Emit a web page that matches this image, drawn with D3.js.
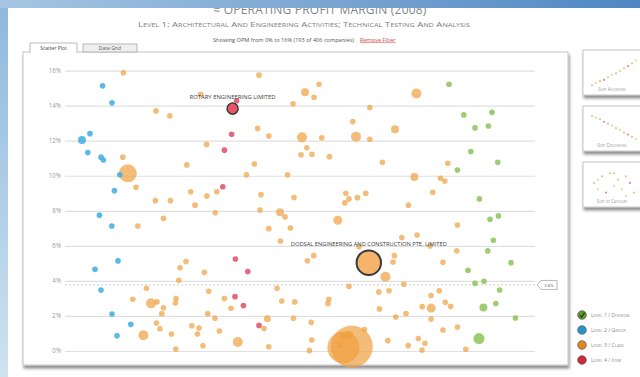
<!DOCTYPE html>
<html><head><meta charset="utf-8">
<script src="https://cdn.jsdelivr.net/npm/d3@7"></script>
<style>body{margin:0;background:#fff;overflow:hidden}svg{display:block;font-family:"Open Sans","Liberation Sans",sans-serif}</style>
</head><body><svg id="c" width="640" height="377"></svg>
<script>
// ---------- data ----------
const yTicks = [0, 2, 4, 6, 8, 10, 12, 14, 16];
const levelNames = ["Level 1 / Division", "Level 2 / Group", "Level 3 / Class", "Level 4 / Item"];
const levelColors = ["#86bf4f", "#3eaee0", "#f0a040", "#dc4462"];
const legendColors = ["#5e9a2c", "#2b93c9", "#e08a1e", "#d02a3c"];
const titleText = "≈ Operating Profit Margin (2008)";
const subtitleText = "Level 1: Architectural And Engineering Activities; Technical Testing And Analysis";
const filterText = "Showing OPM from 0% to 16% (193 of 406 companies)";
const refValue = 3.77, refLabel = "3.8%";
// [position, OPM %, size]  (size defaults to 18)
const level1 = [[192,15.22],[199.4,13.47],[213.5,13.62],[205,12.73],[211.7,12.84],[202.9,11.38],[216.4,10.77],[196.2,10.33],[207.2,8.68],[212.5,7.52],[216.7,7.71],[214.2,6.32],[211.4,5.71],[223,5.04],[201.5,4.61],[205,3.86],[209.5,3.98],[217.3,3.48],[209.2,2.48,36],[215.4,2.71],[225.2,1.88],[207,0.71,69]];
const level2 = [[18.8,15.13],[23.5,14.16],[12.5,12.40],[8.5,12.04,36],[11.4,11.32],[18,11.06],[19.2,10.90],[27.4,10.06],[24.7,9.15],[17.2,7.75],[23.4,7.13],[26.5,5.14],[15,4.66],[18,3.48],[23.5,2.11],[32.9,1.52],[26,0.87]];
const level3 = [[29.2,15.88],[45.5,13.70],[52.4,13.42],[67.8,14.65],[97,15.74],[114,14.11],[120,14.77,36],[124.5,14.48],[127,15.22],[175.7,14.69,57],
[152.4,13.89],[143.9,13.09],[165,12.65,36],[28.9,11.06],[96.3,12.70],[101.9,12.27],[70.8,11.79],[118.5,12.19,57],[128.4,12.17],[145.5,12.23,57],
[152.4,12.08],[120.9,11.60],[118,11.20],[123.5,11.23],[132.2,11.09],[158.7,10.77],[191.4,10.71],[60.9,10.62],[94.7,10.67],[31.4,10.14,184],
[90.7,10.05],[111.3,10.05],[174.7,9.93,36],[187.7,9.86],[189.9,9.70],[35.5,9.34],[62.9,9.09],[75.9,9.09],[70.9,8.84],[98,8.92],
[114.5,8.76],[140.4,9.00],[142,8.68],[146.2,8.75],[150.4,9.00],[139.9,8.45],[183.9,9.06],[45.2,8.58],[52.7,8.58],[65,8.32],
[171.7,8.32],[97.5,8.04],[75.1,7.89],[107.5,7.92,36],[110,7.65],[49.2,7.57],[36.4,7.13],[101.9,6.98],[112.7,7.02],[136.4,7.46,46],
[196.2,7.19],[168.4,6.47],[176,6.62],[107.7,6.28],[195.9,5.72],[147,5.95],[182.5,5.99],[121.2,5.15],[124.4,5.44],[164.7,5.44],
[164,5.08],[189,5.06],[60.5,5.10],[57.5,4.75],[69.7,4.49],[160.2,4.24,57],[56.9,4.04],[142,3.69],[169.4,3.81],[40.7,3.58],
[71.9,3.41],[106,3.58],[156.9,3.37],[162,3.44],[187.1,3.44],[183,3.17],[33.9,2.95],[43,2.72,57],[46,2.80],[49.2,2.47],
[48.4,2.13],[55.5,2.99],[55.2,2.74],[79.7,2.99],[83,2.44],[108.4,2.85],[114.9,2.80],[131.9,2.95],[131.5,2.70],[190.1,2.78],
[192.8,2.55],[178.6,2.53],[183.1,2.45,46],[157.2,2.40],[170.5,2.14],[71.4,2.13],[75,1.87],[101.2,1.84,28],[114.2,1.87],[165.4,1.94],
[183,1.82],[45.7,1.60],[47.5,1.27],[63.4,1.44],[67,1.31],[66.2,0.97],[77.2,1.14],[53.2,0.97],[39.2,0.90,57],[99.5,1.28],
[123.1,1.63],[149.7,1.22],[189,1.20],[196.2,1.37],[86.4,0.51,57],[69,0.30],[55.4,0.11],[101.9,0.24],[123.4,0.63],[122.2,0.02],
[138.9,0.86],[161.4,0.59],[176.7,0.71],[180,0.44],[171.6,0.31],[178.5,0.05],[200.4,0.10],[143.4,0.25,1000],[139.2,0.20,580],[142.2,0.93,36],[137.5,0.29]];
const level4 = [[85.8,14.28],[83.3,12.37],[79.7,11.46],[78.9,9.37],[85.2,5.25],[91.4,4.53],[85,3.10],[89.2,2.59],[97,1.46]];
const highlighted = [
  {name: "ROTARY ENGINEERING LIMITED", level: 3, pos: 83.8, opm: 13.83, size: 69, labelW: 86},
  {name: "DODSAL ENGINEERING AND CONSTRUCTION PTE. LIMITED", level: 2, pos: 151.9, opm: 5.04, size: 340, labelW: 156}
];
const sortButtons = ["Sort Ascending", "Sort Descending", "Sort by Category"];
const thumbAsc = [0.5,1.2,1.8,2.2,3,3.8,4.2,5,5.8,6.5,7.3,8.2];
const thumbDesc = [8.4,7.8,7.4,6.6,6,5.4,4.6,4,3.2,2.6,1.9,1.2];
const thumbCat = [[1,5],[2,3],[3,7],[4,2],[5,8],[6,4],[7,6],[8,3],[9,7],[10,5],[11,2],[2,6],[6,8],[9,1]];
const thumbColors = ["#b8dc98","#f4d090","#f4c080","#e88898","#f4c080","#d4e4a0"];

// ---------- drawing ----------
const svg = d3.select("#c");
const defs = svg.append("defs");
const g1 = defs.append("linearGradient").attr("id","topband").attr("x1",0).attr("x2",1);
g1.append("stop").attr("offset",0).attr("stop-color","#a6c6e2");
g1.append("stop").attr("offset",1).attr("stop-color","#4f87c2");
const g2 = defs.append("linearGradient").attr("id","leftband").attr("x1",0).attr("x2",0).attr("y1",0).attr("y2",1);
g2.append("stop").attr("offset",0).attr("stop-color","#8fb8dc");
g2.append("stop").attr("offset",1).attr("stop-color","#cfe2f0");
const f = defs.append("filter").attr("id","sh").attr("x","-5%").attr("y","-5%").attr("width","115%").attr("height","120%");
f.append("feDropShadow").attr("dx",1).attr("dy",3).attr("stdDeviation",1.6).attr("flood-color","#000").attr("flood-opacity",0.45);

svg.append("rect").attr("width",640).attr("height",377).attr("fill","#fff");

// titles
svg.append("text").attr("x",320).attr("y",14).attr("text-anchor","middle")
  .attr("font-size",12).attr("fill","#858585").attr("letter-spacing",0.2).text(titleText.toUpperCase());
svg.append("text").attr("x",304).attr("y",27).attr("text-anchor","middle")
  .attr("font-size",8).attr("fill","#7d7d7d").style("font-variant","small-caps")
  .attr("textLength",332).attr("lengthAdjust","spacingAndGlyphs").text(subtitleText);
svg.append("text").attr("x",354).attr("y",41.5).attr("text-anchor","end")
  .attr("font-size",5.6).attr("fill","#555").text(filterText);
svg.append("text").attr("x",360).attr("y",41.5).attr("font-size",5.6).attr("fill","#d04848")
  .attr("text-decoration","underline").text("Remove Filter");

// chart panel
svg.append("rect").attr("x",23).attr("y",52).attr("width",545).attr("height",313)
  .attr("fill","#fff").attr("stroke","#c4c4c4").attr("filter","url(#sh)");
// tabs
svg.append("rect").attr("x",83).attr("y",44).attr("width",54).attr("height",8).attr("fill","#efefef").attr("stroke","#a8a8a8").attr("stroke-width",0.8);
svg.append("text").attr("x",110).attr("y",50.2).attr("text-anchor","middle").attr("font-size",5).attr("fill","#555").text("Data Grid");
svg.append("path").attr("d","M30,53V43H77V53").attr("fill","#fff").attr("stroke","#a8a8a8").attr("stroke-width",0.8);
svg.append("rect").attr("x",30.5).attr("y",51.5).attr("width",46).attr("height",2).attr("fill","#fff");
svg.append("text").attr("x",53.5).attr("y",49.5).attr("text-anchor","middle").attr("font-size",5).attr("fill","#444").text("Scatter Plot");

// scales
const x = d3.scaleLinear().domain([0, 236]).range([65, 537]);
const y = d3.scaleLinear().domain([0, 16]).range([351, 70.6]);
const r = d3.scaleSqrt().domain([0, 1000]).range([0, 21]);

const ax = svg.append("g").attr("transform","translate(65,0)")
  .call(d3.axisLeft(y).tickValues(yTicks).tickFormat(d => d + "%").tickSize(-470).tickPadding(4));
ax.select(".domain").remove();
ax.selectAll("line").attr("stroke","#e0e0e0").attr("stroke-width",1.2);
ax.selectAll("text").attr("fill","#9a9a9a").attr("font-size",6.2).attr("font-family","Open Sans, sans-serif");

// reference dashed line
svg.append("line").attr("x1",65).attr("x2",535).attr("y1",y(refValue)).attr("y2",y(refValue))
  .attr("stroke","#c0c0c0").attr("stroke-dasharray","2,2").attr("stroke-width",0.8);
const ty = y(refValue);
svg.append("path").attr("d",`M537,${ty}L541,${ty-4.5}H557V${ty+4.5}H541Z`).attr("fill","#fff").attr("stroke","#999").attr("stroke-width",0.7);
svg.append("text").attr("x",549).attr("y",ty+1.6).attr("text-anchor","middle").attr("font-size",4.2).attr("fill","#666").text(refLabel);

// points
const pts = [];
[level1, level2, level3, level4].forEach((arr, li) => arr.forEach(d => pts.push({lv: li, pos: d[0], opm: d[1], size: d[2] || 18})));
pts.sort((a, b) => b.size - a.size);
const opac = [0.8, 0.85, 0.7, 0.8];
svg.append("g").selectAll("circle").data(pts).join("circle")
  .attr("cx", d => x(d.pos)).attr("cy", d => y(d.opm)).attr("r", d => r(d.size))
  .attr("fill", d => levelColors[d.lv]).attr("fill-opacity", d => opac[d.lv]);

// highlighted companies
const hg = svg.append("g");
highlighted.forEach(h => {
  const cx = x(h.pos), cy = y(h.opm), rr = r(h.size);
  hg.append("circle").attr("cx",cx).attr("cy",cy).attr("r",rr)
    .attr("fill", h.level === 3 ? "#ea5468" : "#f5b36c").attr("stroke","#3a3a3a").attr("stroke-width", h.level === 3 ? 1.5 : 2);
  hg.append("text").attr("x",cx).attr("y",cy - rr - 4).attr("text-anchor","middle")
    .attr("font-size",6).attr("fill","#3c3c3c").attr("textLength",h.labelW).attr("lengthAdjust","spacingAndGlyphs").text(h.name);
});

// sort thumbnails
const boxTops = [50, 106, 162];
sortButtons.forEach((label, i) => {
  const t = boxTops[i];
  svg.append("rect").attr("x",583).attr("y",t).attr("width",62).attr("height",45)
    .attr("fill","#fff").attr("stroke","#b8b8b8").attr("stroke-width",0.8).attr("filter","url(#sh)");
  const tx = d3.scaleLinear().domain([0, 11]).range([592, 636]);
  const tyS = d3.scaleLinear().domain([0, 9]).range([t + 37, t + 8]);
  let dots;
  if (i === 0) dots = thumbAsc.map((v, k) => [k, v]);
  else if (i === 1) dots = thumbDesc.map((v, k) => [k, v]);
  else dots = thumbCat.map(d => [d[0] - 0.5, d[1]]);
  svg.append("g").selectAll("circle").data(dots).join("circle")
    .attr("cx", d => tx(d[0])).attr("cy", d => tyS(d[1])).attr("r", 1.1)
    .attr("fill", (d, k) => thumbColors[k % thumbColors.length]);
  svg.append("text").attr("x",612).attr("y",t + 40.5).attr("text-anchor","middle").attr("font-size",4.6)
    .attr("fill","#999").style("font-variant","small-caps").text(label);
});

// legend
const lg = svg.append("g");
levelNames.forEach((name, i) => {
  const cy = 315 + i * 15;
  lg.append("circle").attr("cx",582).attr("cy",cy).attr("r",4.3).attr("fill",legendColors[i]).attr("stroke","#555").attr("stroke-width",0.7);
  lg.append("text").attr("x",591).attr("y",cy + 1.8).attr("font-size",5.2).attr("fill","#8a8a8a").style("font-variant","small-caps").text(name);
});
lg.append("path").attr("d","M579.8,315 L581.6,317 L584.6,312.6").attr("fill","none").attr("stroke","#1f3a10").attr("stroke-width",1.1);

// window frame (background)
svg.append("rect").attr("x",0).attr("y",0).attr("width",8).attr("height",377).attr("fill","url(#leftband)");
svg.append("rect").attr("x",0).attr("y",0).attr("width",640).attr("height",8).attr("fill","url(#topband)");
</script></body></html>
